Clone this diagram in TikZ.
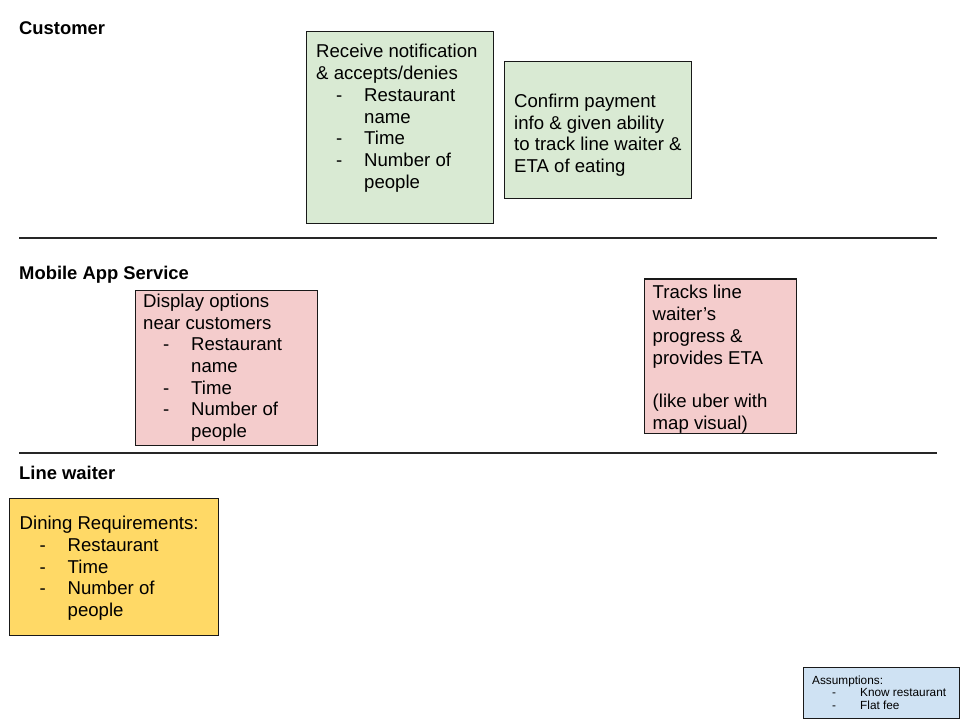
\documentclass[tikz,border=0pt]{standalone}
\usepackage{fontspec}
\setmainfont{Liberation Sans}
\usepackage{tikz}
\usetikzlibrary{positioning}
\definecolor{notegreen}{HTML}{D9EAD3}
\definecolor{notepink}{HTML}{F4CCCC}
\definecolor{noteyellow}{HTML}{FFD966}
\definecolor{noteblue}{HTML}{CFE2F3}
\newcommand{\dashitem}[1]{\hspace*{20pt}\makebox[28pt][l]{-}#1}
\newcommand{\dashcont}[1]{\hspace*{48pt}#1}
\begin{document}
\begin{tikzpicture}[x=1pt, y=-1pt,
  lane/.style={line width=2pt, black!85},
  lanetitle/.style={anchor=base west, inner sep=0, font=\fontsize{18.4}{22}\selectfont\bfseries},
  note/.style={draw=black!90, line width=1.4pt, anchor=north west, inner sep=0},
  notetext/.style={anchor=north west, inner sep=0, align=left, font=\fontsize{18.6}{21.7}\selectfont, execute at begin node={\rule{0pt}{14pt}}},
  smalltext/.style={anchor=north west, inner sep=0, align=left, font=\fontsize{11.8}{12.6}\selectfont, execute at begin node={\rule{0pt}{9pt}}},
]
  \useasboundingbox (0,0) rectangle (960,720);

  % lanes
  \node[lanetitle] (customer) at (19,34) {Customer};
  \node[lanetitle] (mobile) at (19,279.3) {Mobile App Service};
  \node[lanetitle] (waiter) at (19,479) {Line waiter};
  \coordinate (lane1w) at (19,237.5);
  \coordinate (lane1e) at (936.5,237.5);
  \coordinate (lane2w) at (19,452.5);
  \coordinate (lane2e) at (936.5,452.5);
  \draw[lane] (lane1w) -- (lane1e);
  \draw[lane] (lane2w) -- (lane2e);

  % customer
  \node[note, fill=notegreen, minimum width=187, minimum height=191.5] (notify) at (306,31) {};
  \node[notetext] (notifytext) at ([shift={(10,13.3)}]notify.north west) {Receive notification\\
    \& accepts/denies\\ \dashitem{Restaurant}\\ \dashcont{name}\\ \dashitem{Time}\\
    \dashitem{Number of}\\ \dashcont{people}};
  \node[note, fill=notegreen, minimum width=186.5, minimum height=137] (confirm) at (504,61) {};
  \node[notetext] (confirmtext) at ([shift={(10,32.7)}]confirm.north west) {Confirm payment\\
    info \& given ability\\ to track line waiter \&\\ ETA of eating};

  % mobile app service
  \node[note, fill=notepink, minimum width=181.5, minimum height=154.5] (display) at (135,290) {};
  \node[notetext] (displaytext) at ([shift={(8,3.7)}]display.north west) {Display options\\
    near customers\\ \dashitem{Restaurant}\\ \dashcont{name}\\ \dashitem{Time}\\
    \dashitem{Number of}\\ \dashcont{people}};
  \node[note, fill=notepink, minimum width=151.5, minimum height=154.7] (tracks) at (644,278.3) {};
  \node[notetext] (trackstext) at ([shift={(8.5,7)}]tracks.north west) {Tracks line\\
    waiter's\\ progress \&\\ provides ETA\\ \mbox{}\\ (like uber with\\ map visual)};

  % line waiter
  \node[note, fill=noteyellow, minimum width=209.5, minimum height=137] (dining) at (8.5,498) {};
  \node[notetext] (diningtext) at ([shift={(11,18)}]dining.north west) {Dining Requirements:\\
    \dashitem{Restaurant}\\ \dashitem{Time}\\ \dashitem{Number of}\\ \dashcont{people}};

  % assumptions
  \node[note, fill=noteblue, minimum width=156, minimum height=50.5] (assume) at (802.5,667) {};
  \node[smalltext] (assumetext) at ([shift={(9.5,8.3)}]assume.north west) {Assumptions:\\
    \dashitem{Know restaurant}\\ \dashitem{Flat fee}};
\end{tikzpicture}
\end{document}
